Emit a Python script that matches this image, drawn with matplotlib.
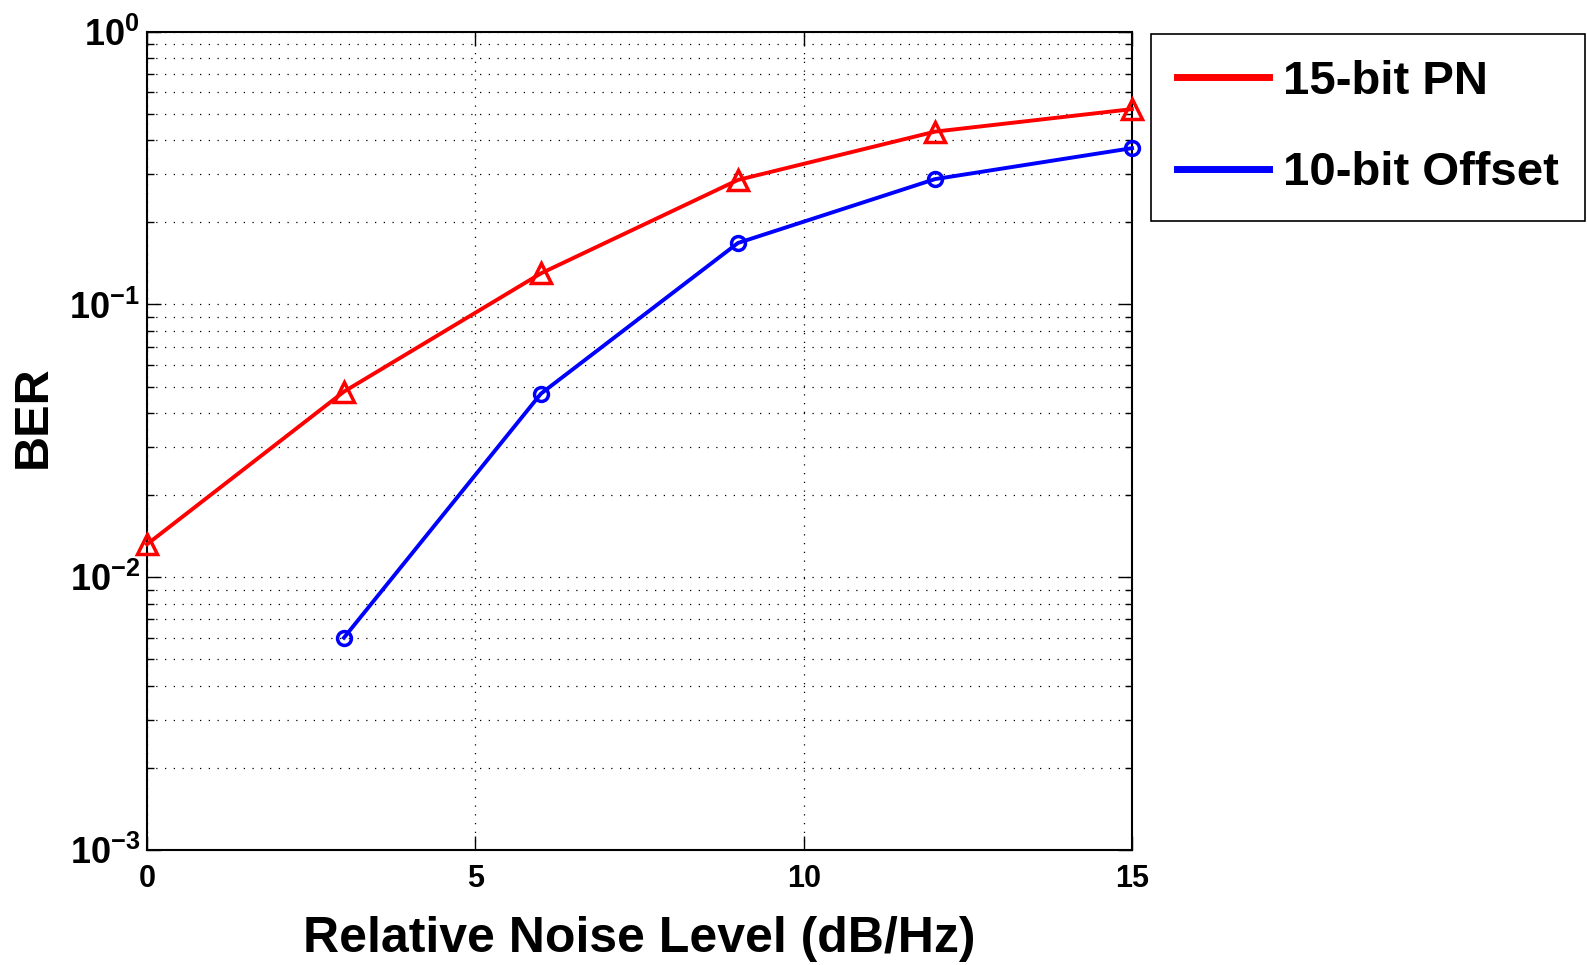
import numpy as np
import matplotlib
matplotlib.use('Agg')
import matplotlib.pyplot as plt
from matplotlib.ticker import LogLocator, FixedLocator, NullFormatter, FuncFormatter
from matplotlib.lines import Line2D

# Data
noise_pn = [0, 3, 6, 9, 12, 15]
ber_pn = [0.0132, 0.0479, 0.130, 0.286, 0.430, 0.52]
noise_off = [3, 6, 9, 12, 15]
ber_off = [0.0060, 0.0471, 0.168, 0.288, 0.374]
series_names = ['15-bit PN', '10-bit Offset']
x_ticks = [0, 5, 10, 15]

plt.rcParams['font.family'] = 'Liberation Sans'
plt.rcParams['font.weight'] = 'bold'
plt.rcParams['mathtext.fontset'] = 'custom'
plt.rcParams['mathtext.rm'] = 'Liberation Sans:bold'
plt.rcParams['mathtext.bf'] = 'Liberation Sans:bold'

fig = plt.figure(figsize=(15.87, 9.65), dpi=100)
ax = fig.add_axes([0.0926, 0.1192, 0.6207, 0.848])

ax.plot(noise_pn, ber_pn, color='red', lw=2.8, marker='^', ms=14,
        mfc='none', mec='red', mew=2.5, zorder=3, clip_on=False)
ax.plot(noise_off, ber_off, color='blue', lw=2.8, marker='o', ms=10,
        mfc='none', mec='blue', mew=2.5, zorder=3, clip_on=False)

ax.set_yscale('log')
ax.set_xlim(0, 15)
ax.set_ylim(1e-3, 1)
ax.xaxis.set_major_locator(FixedLocator(x_ticks))
ax.yaxis.set_major_locator(LogLocator(base=10, numticks=10))
ax.yaxis.set_minor_locator(LogLocator(base=10, subs=np.arange(2, 10), numticks=20))
ax.yaxis.set_minor_formatter(NullFormatter())
ax.yaxis.set_major_formatter(FuncFormatter(lambda v, p: r'$\mathbf{10^{%d}}$' % round(np.log10(v))))

ax.tick_params(which='both', direction='in', top=True, right=True, width=1)
ax.tick_params(which='major', length=10, pad=10)
ax.tick_params(which='minor', length=5)
ax.tick_params(axis='x', which='major', labelsize=22)
ax.tick_params(axis='y', which='major', labelsize=26, pad=5)

ax.grid(True, which='major', ls=(0, (1, 6)), color='black', lw=0.9)
ax.grid(True, which='minor', axis='y', ls=(0, (1, 6)), color='black', lw=0.9)
for sp in ax.spines.values():
    sp.set_linewidth(1.5)

ax.set_xlabel('Relative Noise Level (dB/Hz)', fontsize=36, fontweight='bold', labelpad=16)
ax.set_ylabel('BER', fontsize=35, fontweight='bold')
ax.yaxis.set_label_coords(-0.093, 0.53)

handles = [Line2D([], [], color='red', lw=5), Line2D([], [], color='blue', lw=5)]
leg = fig.legend(handles, series_names, loc='upper left',
                 bbox_to_anchor=(0.7251, 0.9648), bbox_transform=fig.transFigure,
                 prop={'family': 'Liberation Sans', 'weight': 'bold', 'size': 34},
                 handlelength=1.95, handletextpad=0.3, borderpad=0.55,
                 labelspacing=1.0, fancybox=False, framealpha=1, borderaxespad=0)
leg.get_frame().set_edgecolor('black')
leg.get_frame().set_linewidth(1.2)

fig.savefig('out.png', dpi=100)
